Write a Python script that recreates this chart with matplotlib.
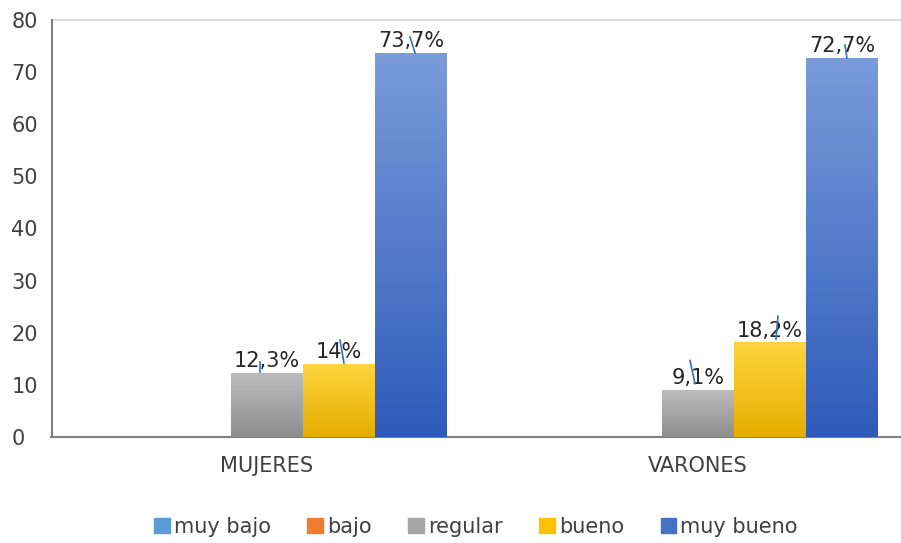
import numpy as np
import matplotlib
matplotlib.use("Agg")
import matplotlib.pyplot as plt
from matplotlib.patches import Rectangle
from matplotlib.lines import Line2D
from matplotlib.colors import LinearSegmentedColormap

categories = ["MUJERES", "VARONES"]
series = ["muy bajo", "bajo", "regular", "bueno", "muy bueno"]
values = {
    "muy bajo": [0, 0],
    "bajo": [0, 0],
    "regular": [12.3, 9.1],
    "bueno": [14, 18.2],
    "muy bueno": [73.7, 72.7],
}
labels = {
    "regular": ["12,3%", "9,1%"],
    "bueno": ["14%", "18,2%"],
    "muy bueno": ["73,7%", "72,7%"],
}
yticks = [0, 10, 20, 30, 40, 50, 60, 70, 80]

legend_colors = ["#5B9BD5", "#ED7D31", "#A5A5A5", "#FFC000", "#4472C4"]
grad = {
    "muy bajo": ("#8DB8E3", "#4A8ACB"),
    "bajo": ("#F3A06A", "#DD6A1C"),
    "regular": ("#BDBDBD", "#8E8E8E"),
    "bueno": ("#FFD43F", "#E5AE00"),
    "muy bueno": ("#7B9BDA", "#2E5BBA"),
}
# small blue stroke marks seen over the value labels (pixel offsets from bar top-centre)
marks = {
    ("regular", 0): (-7, 11, -7, 1),
    ("bueno", 0): (1, 24, 5, 1),
    ("muy bueno", 0): (-1, 16, 4, 0),
    ("regular", 1): (-8, 29, -3, 6),
    ("bueno", 1): (8, 26, 6, 3),
    ("muy bueno", 1): (3, 13, 5, 0),
}

FS = 15
plt.rcParams['font.family'] = ['DejaVu Sans']
W, H = 901, 543
fig = plt.figure(figsize=(W / 100, H / 100), dpi=100)
ax_left, ax_right = 51.5, 913.5
ax_top, ax_bot = 20, 437
ax = fig.add_axes([ax_left / W, (H - ax_bot) / H, (ax_right - ax_left) / W, (ax_bot - ax_top) / H])
ax.set_xlim(-0.5, 1.5)
ax.set_ylim(0, 80)

x = np.arange(len(categories))
bw = 0.167
n = len(series)
for i, s in enumerate(series):
    offs = (i - (n - 1) / 2) * bw
    bars = ax.bar(x + offs, values[s], width=bw, color=legend_colors[i], linewidth=0, zorder=2)
    top_c, bot_c = grad[s]
    cmap = LinearSegmentedColormap.from_list(s, [bot_c, top_c])
    for j, b in enumerate(bars):
        h = b.get_height()
        if h <= 0:
            continue
        g = np.linspace(0, 1, 256).reshape(-1, 1)
        im = ax.imshow(g, cmap=cmap, origin='lower', aspect='auto',
                       extent=[b.get_x(), b.get_x() + b.get_width(), 0, h], zorder=3)
        im.set_clip_path(b)
        xc = b.get_x() + b.get_width() / 2
        if s in labels:
            ax.text(xc, h + 0.3, labels[s][j],
                    ha='center', va='bottom', fontsize=FS, color='#262626', zorder=4)
        if (s, j) in marks:
            dx1, dy1, dx2, dy2 = marks[(s, j)]
            px, py = ax.transData.transform((xc, h))
            fig.add_artist(Line2D([px + dx1, px + dx2], [py + dy1, py + dy2],
                                  transform=None, color='#2E75B6', lw=1.2, zorder=5))

ax.set_xlim(-0.5, 1.5)
ax.set_ylim(0, 80)
ax.axhline(80, color='#D9D9D9', lw=1.2, zorder=1, clip_on=False)
ax.set_yticks(yticks)
ax.set_yticklabels([str(v) for v in yticks], ha='left')
ax.set_xticks(x)
ax.set_xticklabels(categories)
ax.tick_params(axis='y', length=0, pad=29, labelsize=FS, labelcolor='#404040')
ax.tick_params(axis='x', length=0, pad=14, labelsize=FS, labelcolor='#404040')
for sp in ['top', 'right']:
    ax.spines[sp].set_visible(False)
for sp in ['left', 'bottom']:
    ax.spines[sp].set_color('#808080')
    ax.spines[sp].set_linewidth(1.5)

handles = [Rectangle((0, 0), 1, 1, color=c) for c in legend_colors]
fig.legend(handles, series, loc='center', bbox_to_anchor=(476 / W, 1 - 527 / H), ncol=5,
           frameon=False, fontsize=FS, handlelength=0.75, handleheight=0.75,
           handletextpad=0.2, columnspacing=1.75, labelcolor='#404040')

fig.savefig("out.png", dpi=100)
